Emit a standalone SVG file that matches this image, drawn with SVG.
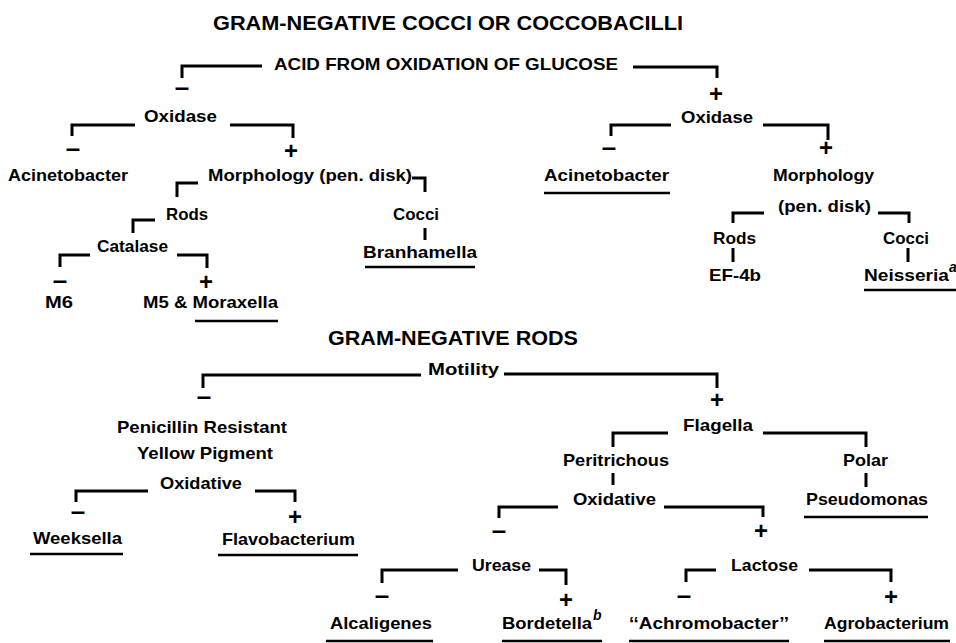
<svg xmlns="http://www.w3.org/2000/svg" width="956" height="643" viewBox="0 0 956 643">
<style>
.t{font-family:"Liberation Sans",Arial,Helvetica,sans-serif;font-weight:bold;font-size:16.5px;fill:#000}
.h{font-size:20px}
.sup{font-size:14px;font-style:italic}
.sg{font-family:"Liberation Sans",Arial,sans-serif;font-weight:bold;fill:#000;text-anchor:middle}
.p{font-size:24px}
.m{font-size:26px}
.c{fill:none;stroke:#000;stroke-width:3;stroke-linejoin:miter}
.u{stroke:#000;stroke-width:2.6}
</style>
<rect width="956" height="643" fill="#fff"/>

<!-- ===== Top tree ===== -->
<g id="title1"><text class="t h" x="213" y="30" textLength="470" lengthAdjust="spacingAndGlyphs">GRAM-NEGATIVE COCCI OR COCCOBACILLI</text></g>
<g id="acid"><text class="t" x="274" y="70" textLength="344" lengthAdjust="spacingAndGlyphs">ACID FROM OXIDATION OF GLUCOSE</text></g>
<g id="oxidaseL"><text class="t" x="144" y="122" textLength="73" lengthAdjust="spacingAndGlyphs">Oxidase</text></g>
<g id="oxidaseR"><text class="t" x="681" y="123" textLength="72" lengthAdjust="spacingAndGlyphs">Oxidase</text></g>
<g id="acinetoL"><text class="t" x="8" y="181" textLength="120" lengthAdjust="spacingAndGlyphs">Acinetobacter</text></g>
<g id="morphL"><text class="t" x="208" y="181" textLength="204" lengthAdjust="spacingAndGlyphs">Morphology (pen. disk)</text></g>
<g id="rodsL"><text class="t" x="166" y="220" textLength="42" lengthAdjust="spacingAndGlyphs">Rods</text></g>
<g id="catalase"><text class="t" x="97" y="252" textLength="71" lengthAdjust="spacingAndGlyphs">Catalase</text></g>
<g id="m6"><text class="t" x="45" y="308" textLength="28" lengthAdjust="spacingAndGlyphs">M6</text></g>
<g id="m5"><text class="t" x="143" y="308" textLength="135" lengthAdjust="spacingAndGlyphs">M5 &amp; Moraxella</text><line class="u" x1="195" y1="321" x2="278" y2="321"/></g>
<g id="cocciL"><text class="t" x="393" y="220" textLength="46" lengthAdjust="spacingAndGlyphs">Cocci</text></g>
<g id="branhamella"><text class="t" x="363" y="258" textLength="114" lengthAdjust="spacingAndGlyphs">Branhamella</text><line class="u" x1="365" y1="267" x2="475" y2="267"/></g>
<g id="acinetoR"><text class="t" x="544" y="181" textLength="125" lengthAdjust="spacingAndGlyphs">Acinetobacter</text><line class="u" x1="544" y1="193" x2="670" y2="193"/></g>
<g id="morphR"><text class="t" x="773" y="181" textLength="101" lengthAdjust="spacingAndGlyphs">Morphology</text><text class="t" x="778" y="212" textLength="93" lengthAdjust="spacingAndGlyphs">(pen. disk)</text></g>
<g id="rodsR"><text class="t" x="713" y="244" textLength="43" lengthAdjust="spacingAndGlyphs">Rods</text></g>
<g id="ef4b"><text class="t" x="709" y="281" textLength="52" lengthAdjust="spacingAndGlyphs">EF-4b</text></g>
<g id="cocciR"><text class="t" x="883" y="244" textLength="46" lengthAdjust="spacingAndGlyphs">Cocci</text></g>
<g id="neisseria"><text class="t" x="864" y="281" textLength="85" lengthAdjust="spacingAndGlyphs">Neisseria</text><text class="t sup" x="949" y="272">a</text><line class="u" x1="864" y1="290" x2="956" y2="290"/></g>

<!-- ===== Bottom tree ===== -->
<g id="title2"><text class="t h" x="328" y="345" textLength="250" lengthAdjust="spacingAndGlyphs">GRAM-NEGATIVE RODS</text></g>
<g id="motility"><text class="t" x="428" y="375" textLength="71" lengthAdjust="spacingAndGlyphs">Motility</text></g>
<g id="penres"><text class="t" x="117" y="433" textLength="170" lengthAdjust="spacingAndGlyphs">Penicillin Resistant</text><text class="t" x="137" y="459" textLength="136" lengthAdjust="spacingAndGlyphs">Yellow Pigment</text></g>
<g id="oxidativeL"><text class="t" x="160" y="489" textLength="82" lengthAdjust="spacingAndGlyphs">Oxidative</text></g>
<g id="weeksella"><text class="t" x="33" y="544" textLength="89" lengthAdjust="spacingAndGlyphs">Weeksella</text><line class="u" x1="30" y1="554" x2="123" y2="554"/></g>
<g id="flavobacterium"><text class="t" x="222" y="545" textLength="133" lengthAdjust="spacingAndGlyphs">Flavobacterium</text><line class="u" x1="218" y1="555" x2="358" y2="555"/></g>
<g id="flagella"><text class="t" x="683" y="431" textLength="70" lengthAdjust="spacingAndGlyphs">Flagella</text></g>
<g id="peritrichous"><text class="t" x="563" y="466" textLength="106" lengthAdjust="spacingAndGlyphs">Peritrichous</text></g>
<g id="polar"><text class="t" x="843" y="466" textLength="45" lengthAdjust="spacingAndGlyphs">Polar</text></g>
<g id="oxidativeR"><text class="t" x="573" y="505" textLength="83" lengthAdjust="spacingAndGlyphs">Oxidative</text></g>
<g id="pseudomonas"><text class="t" x="806" y="505" textLength="122" lengthAdjust="spacingAndGlyphs">Pseudomonas</text><line class="u" x1="804" y1="517" x2="928" y2="517"/></g>
<g id="urease"><text class="t" x="472" y="571" textLength="59" lengthAdjust="spacingAndGlyphs">Urease</text></g>
<g id="lactose"><text class="t" x="731" y="571" textLength="67" lengthAdjust="spacingAndGlyphs">Lactose</text></g>
<g id="alcaligenes"><text class="t" x="330" y="629" textLength="102" lengthAdjust="spacingAndGlyphs">Alcaligenes</text><line class="u" x1="326" y1="641" x2="433" y2="641"/></g>
<g id="bordetella"><text class="t" x="502" y="629" textLength="90" lengthAdjust="spacingAndGlyphs">Bordetella</text><text class="t sup" x="593" y="620">b</text><line class="u" x1="502" y1="641" x2="602" y2="641"/></g>
<g id="achromobacter"><text class="t" x="629" y="629" textLength="160" lengthAdjust="spacingAndGlyphs">‘‘Achromobacter’’</text><line class="u" x1="629" y1="641" x2="789" y2="641"/></g>
<g id="agrobacterium"><text class="t" x="824" y="629" textLength="125" lengthAdjust="spacingAndGlyphs">Agrobacterium</text><line class="u" x1="824" y1="641" x2="950" y2="641"/></g>

<!-- ===== Connectors ===== -->
<g id="connectors">
<path class="c" d="M182 78 V66 H262"/>
<path class="c" d="M633 67 H717 V78"/>
<path class="c" d="M72 136 V125 H135"/>
<path class="c" d="M230 125 H293 V138"/>
<path class="c" d="M611 136 V125 H671"/>
<path class="c" d="M763 125 H828 V140"/>
<path class="c" d="M412 178 H425 V192"/>
<path class="c" d="M177 197 V183 H198"/>
<path class="c" d="M133 233 V220 H155"/>
<path class="c" d="M60 267 V255 H90"/>
<path class="c" d="M177 255 H207 V268"/>
<path class="c" d="M425 228 V240"/>
<path class="c" d="M733 223 V213 H764"/>
<path class="c" d="M878 213 H909 V223"/>
<path class="c" d="M733 248 V262"/>
<path class="c" d="M908 248 V262"/>
<path class="c" d="M203 388 V375 H421"/>
<path class="c" d="M504 374 H717 V388"/>
<path class="c" d="M76 502 V491 H148"/>
<path class="c" d="M255 491 H295 V502"/>
<path class="c" d="M613 447 V433 H668"/>
<path class="c" d="M763 433 H866 V447"/>
<path class="c" d="M613 473 V485"/>
<path class="c" d="M866 473 V487"/>
<path class="c" d="M499 518 V507 H558"/>
<path class="c" d="M664 507 H763 V517"/>
<path class="c" d="M382 583 V570 H458"/>
<path class="c" d="M539 570 H566 V585"/>
<path class="c" d="M686 582 V570 H716"/>
<path class="c" d="M809 570 H891 V582"/>
<!-- branch signs -->
<text class="sg m" x="182" y="96">–</text>
<text class="sg p" x="716" y="102">+</text>
<text class="sg m" x="73" y="157">–</text>
<text class="sg p" x="291" y="159">+</text>
<text class="sg m" x="609" y="156">–</text>
<text class="sg p" x="826" y="156">+</text>
<text class="sg m" x="60" y="289">–</text>
<text class="sg p" x="206" y="290">+</text>
<text class="sg m" x="204" y="405">–</text>
<text class="sg p" x="717" y="408">+</text>
<text class="sg m" x="78" y="520">–</text>
<text class="sg p" x="295" y="525">+</text>
<text class="sg m" x="499" y="539">–</text>
<text class="sg p" x="761" y="539">+</text>
<text class="sg m" x="382" y="604">–</text>
<text class="sg p" x="566" y="608">+</text>
<text class="sg m" x="684" y="604">–</text>
<text class="sg p" x="891" y="605">+</text>
</g>
</svg>
